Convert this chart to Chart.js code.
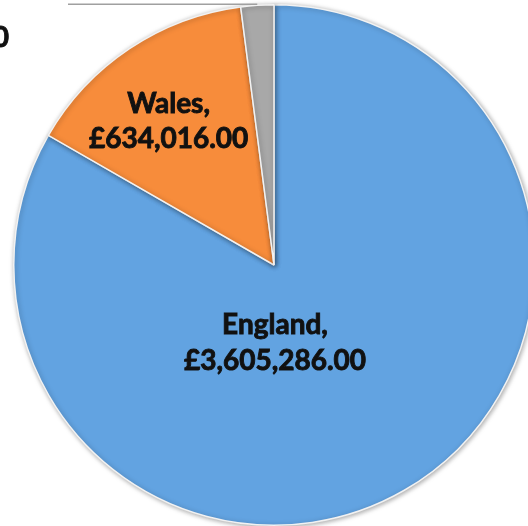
<!DOCTYPE html>
<html>
<head>
<meta charset="utf-8">
<script src="https://cdn.jsdelivr.net/npm/chart.js@4/dist/chart.umd.min.js"></script>
<style>
  html, body { margin: 0; padding: 0; background: #fff; overflow: hidden; }
  #wrap { position: absolute; left: 0; top: 0; }
</style>
</head>
<body>
<div id="wrap"><canvas id="myChart" width="548" height="534"></canvas></div>
<script>
// values
const regioes = ['England', 'Wales', 'Scotland'];
const valores = [3605286, 634016, 88560];
const cores = ['#62a3e1', '#f78c3b', '#a8a8a8'];

const formataLibra = (v) => '£' + v.toLocaleString('en-GB', { minimumFractionDigits: 2, maximumFractionDigits: 2 });

// sombra leve por baixo da pizza
const sombraPlugin = {
    id: 'sombra',
    beforeDatasetsDraw(chart) {
        const ctx = chart.ctx;
        ctx.save();
        ctx.shadowColor = 'rgba(0,0,0,0.35)';
        ctx.shadowBlur = 5;
        ctx.shadowOffsetX = 1;
        ctx.shadowOffsetY = 1;
    },
    afterDatasetsDraw(chart) {
        chart.ctx.restore();
    }
};

// rótulos desenhados à mão, como no Excel
const rotulosPlugin = {
    id: 'rotulos',
    afterDatasetsDraw(chart) {
        const ctx = chart.ctx;
        const arcs = chart.getDatasetMeta(0).data;
        const cx = arcs[0].x, cy = arcs[0].y, r = arcs[0].outerRadius;
        ctx.save();
        ctx.shadowColor = 'transparent';
        ctx.fillStyle = '#111';
        ctx.strokeStyle = '#111';
        ctx.lineWidth = 0.9;
        ctx.font = 'bold 28px Lato';
        ctx.textAlign = 'center';
        ctx.textBaseline = 'alphabetic';

        const texto = (t, x, y) => { ctx.fillText(t, x, y); ctx.strokeText(t, x, y); };

        // England: just below the centre
        texto(regioes[0] + ',', cx + 1, cy + r * 0.265);
        texto(formataLibra(valores[0]), cx + 1, cy + r * 0.405);

        // Wales: inside the slice
        texto(regioes[1] + ',', cx - r * 0.405, cy - r * 0.585);
        texto(formataLibra(valores[1]), cx - r * 0.405, cy - r * 0.45);

        // Scotland: outside, with leader line
        const a = arcs[2];
        const meio = (a.startAngle + a.endAngle) / 2;
        const px = cx + Math.cos(meio) * r, py = cy + Math.sin(meio) * r;
        ctx.strokeStyle = '#a0a0a0';
        ctx.lineWidth = 1.5;
        ctx.beginPath();
        ctx.moveTo(68, py - 1);
        ctx.lineTo(px, py - 1);
        ctx.stroke();

        ctx.strokeStyle = '#111';
        ctx.lineWidth = 0.9;
        const linha2 = formataLibra(valores[2]);
        const w = ctx.measureText(linha2).width;
        const direita = 9;
        texto(linha2, direita - w / 2, 47);
        texto(regioes[2] + ',', direita - w / 2, 12);
        ctx.restore();
    }
};

const ctx = document.getElementById('myChart').getContext('2d');
const myChart = new Chart(ctx, {
    type: 'pie',
    data: {
        labels: regioes,
        datasets: [{
            data: valores,
            backgroundColor: cores,
            borderColor: '#f2f2f2',
            borderWidth: 1.5,
        }]
    },
    options: {
        responsive: false,
        animation: false,
        layout: { padding: { left: 13, top: 4, right: 13, bottom: 8 } },
        plugins: {
            legend: { display: false },
            tooltip: { enabled: false },
        },
    },
    plugins: [sombraPlugin, rotulosPlugin],
});
</script>
</body>
</html>
